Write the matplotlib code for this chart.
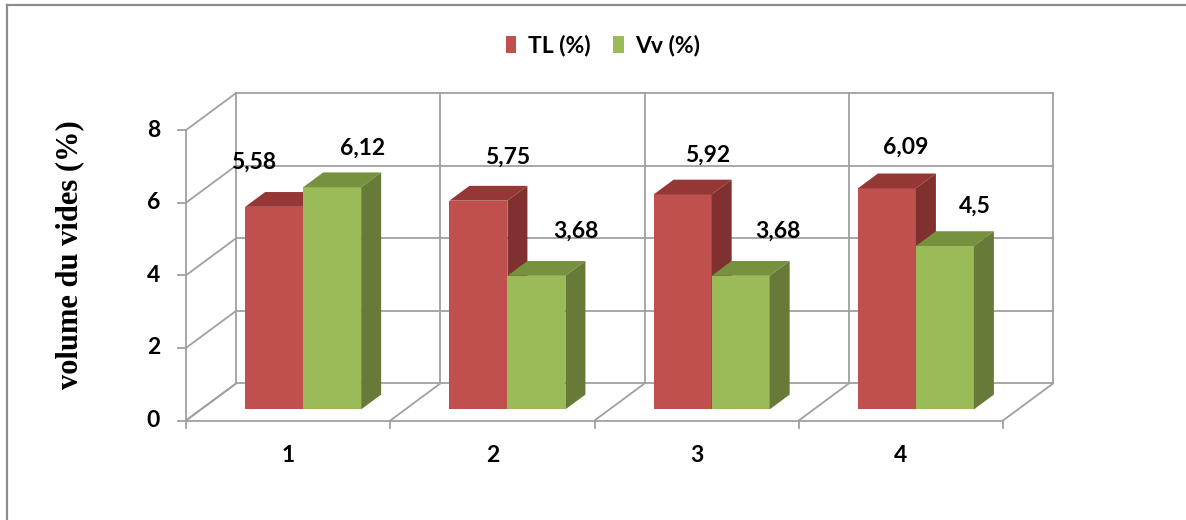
import matplotlib
matplotlib.use("Agg")
import matplotlib.pyplot as plt
from matplotlib.patches import Polygon, Patch
from matplotlib.lines import Line2D

# ---- data ----
categories = ["1", "2", "3", "4"]
series_names = ["TL (%)", "Vv (%)"]
tl_values = [5.58, 5.75, 5.92, 6.09]
vv_values = [6.12, 3.68, 3.68, 4.5]
value_ticks = [0, 2, 4, 6, 8]
tick_labels = ["0", "2", "4", "6", "8"]
y_label = "volume du vides (%)"

# ---- style ----
front_colors = ["#C0504D", "#9BBB59"]
top_colors = ["#943735", "#77923E"]
side_colors = ["#80302E", "#677A37"]
grid_color = "#A0A0A0"
label_font = ["Lato", "DejaVu Sans"]
label_size = 16.5

# label offsets (pixels) from the front-top centre of each bar
label_offsets = [
    [(-21, -45), (29, -43), (25, -39), (19, -41)],
    [(30, -39), (40, -45), (37, -45), (30, -40)],
]

# 3-D look: depth vector in data units (categories, values)
DX, DY = 0.245, 1.02
D0, D1 = 0.3, 0.7          # bars span this depth fraction
BAR_W = 0.284

W, H = 1186, 520
fig = plt.figure(figsize=(W / 100, H / 100), dpi=100)
ax = fig.add_axes([0, 0, 1, 1])
# pixel anchors of the front plane: x=0 -> 186px, 1 category = 204.25px;
# value 0 -> 420.5px from top, 1 unit = 36.3px
x0_px, cat_px, y0_px, val_px = 186.0, 204.25, 420.5, 36.3
ax.set_xlim(-x0_px / cat_px, (W - x0_px) / cat_px)
ax.set_ylim((y0_px - H) / val_px, y0_px / val_px)
ax.axis("off")

n = len(categories)
vmax = value_ticks[-1]
glw = 1.3

# back wall gridlines and left wall diagonals
for v in value_ticks:
    ax.plot([DX, n + DX], [v + DY, v + DY], color=grid_color, lw=glw, zorder=1)
    ax.plot([0, DX], [v, v + DY], color=grid_color, lw=glw, zorder=1)
    ax.plot([-0.04, 0], [v, v], color=grid_color, lw=glw, zorder=1)
# back wall verticals and floor diagonals
for c in range(n + 1):
    ax.plot([c + DX, c + DX], [DY, vmax + DY], color=grid_color, lw=glw, zorder=1)
    ax.plot([c, c + DX], [0, DY], color=grid_color, lw=glw, zorder=1)
    ax.plot([c, c], [0, -0.2], color=grid_color, lw=glw, zorder=1)
# front edges
ax.plot([0, n], [0, 0], color=grid_color, lw=glw, zorder=1)
ax.plot([0, 0], [0, vmax], color=grid_color, lw=glw, zorder=1)

# bars
all_values = [tl_values, vv_values]
for c in range(n):
    for s, vals in enumerate(all_values):
        v = vals[c]
        xl = c + 0.5 - BAR_W + s * BAR_W
        xr = xl + BAR_W
        ax.bar(xl + D0 * DX, v, width=BAR_W, bottom=D0 * DY, align="edge",
               color=front_colors[s], edgecolor="none", zorder=3)
        top = [(xl + D0 * DX, v + D0 * DY), (xr + D0 * DX, v + D0 * DY),
               (xr + D1 * DX, v + D1 * DY), (xl + D1 * DX, v + D1 * DY)]
        side = [(xr + D0 * DX, D0 * DY), (xr + D1 * DX, D1 * DY),
                (xr + D1 * DX, v + D1 * DY), (xr + D0 * DX, v + D0 * DY)]
        ax.add_patch(Polygon(top, closed=True, fc=top_colors[s], ec="none", zorder=3))
        ax.add_patch(Polygon(side, closed=True, fc=side_colors[s], ec="none", zorder=3))
        dx, dy = label_offsets[s][c]
        ax.annotate(f"{v:g}".replace(".", ","),
                    xy=(xl + D0 * DX + BAR_W / 2, v + D0 * DY),
                    xytext=(dx, -dy), textcoords="offset pixels",
                    ha="center", va="center", fontsize=label_size, fontweight="bold",
                    family=label_font, color="black", zorder=5)

# value axis tick labels
for v, t in zip(value_ticks, tick_labels):
    ax.annotate(t, xy=(0, v), xytext=(-26, 0), textcoords="offset pixels",
                ha="right", va="center", fontsize=label_size, fontweight="bold",
                family=label_font)
# category labels
for c, name in enumerate(categories):
    ax.annotate(name, xy=(c + 0.5, 0), xytext=(0, -35), textcoords="offset pixels",
                ha="center", va="center", fontsize=label_size, fontweight="bold",
                family=label_font)

# axis title
fig.text(70 / W, 1 - 255 / H, y_label, rotation=90, ha="center", va="center",
         fontsize=22, fontweight="bold", family=["Liberation Serif"])

# legend
handles = [Patch(facecolor=front_colors[i], edgecolor="none") for i in range(2)]
fig.legend(handles, series_names, loc="center", bbox_to_anchor=(603 / W, 1 - 46 / H),
           ncol=2, frameon=False, handlelength=0.45, handleheight=0.75,
           handletextpad=0.5, columnspacing=1.0,
           prop={"family": label_font, "weight": "bold", "size": label_size})

# chart frame
fig.add_artist(Line2D([7 / W, 7 / W], [0, 1 - 5 / H], transform=fig.transFigure,
                      color="#8C8C8C", lw=1.6))
fig.add_artist(Line2D([7 / W, 1], [1 - 5 / H, 1 - 5 / H], transform=fig.transFigure,
                      color="#8C8C8C", lw=1.6))

fig.savefig("out.png", dpi=100)
